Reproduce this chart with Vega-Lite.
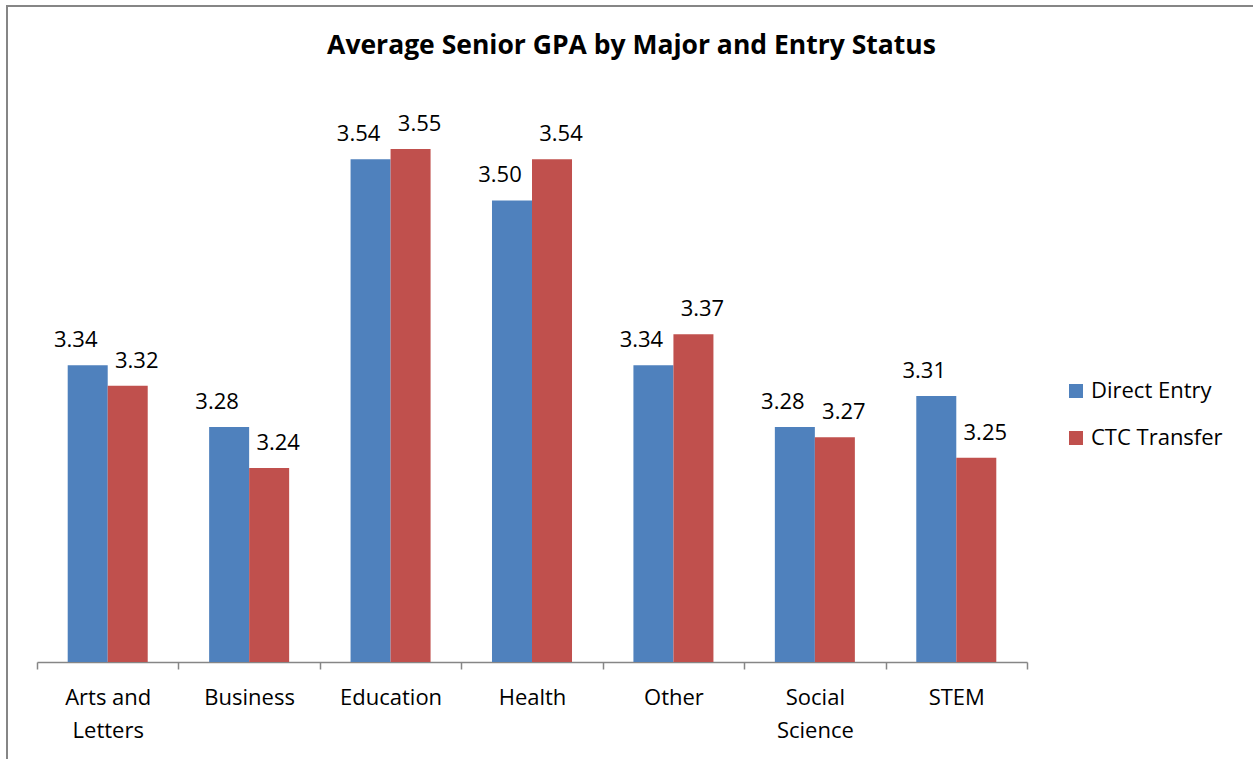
{
  "$schema": "https://vega.github.io/schema/vega-lite/v6.json",
  "width": 1249,
  "height": 756,
  "autosize": "none",
  "padding": {"left": 7, "top": 6, "right": -3, "bottom": -3},
  "background": "white",
  "config": {
    "view": {"stroke": "#868686", "strokeWidth": 2},
    "font": "Open Sans"
  },
  "title": {
    "text": "Average Senior GPA by Major and Entry Status",
    "font": "Open Sans",
    "fontSize": 26.5,
    "fontWeight": "bold",
    "color": "black",
    "anchor": "middle",
    "frame": "group",
    "baseline": "alphabetic",
    "offset": 0,
    "dy": 74
  },
  "data": {
    "values": [
      {"major": "Arts and Letters", "status": "Direct Entry", "gpa": 3.34},
      {"major": "Arts and Letters", "status": "CTC Transfer", "gpa": 3.32},
      {"major": "Business", "status": "Direct Entry", "gpa": 3.28},
      {"major": "Business", "status": "CTC Transfer", "gpa": 3.24},
      {"major": "Education", "status": "Direct Entry", "gpa": 3.54},
      {"major": "Education", "status": "CTC Transfer", "gpa": 3.55},
      {"major": "Health", "status": "Direct Entry", "gpa": 3.50},
      {"major": "Health", "status": "CTC Transfer", "gpa": 3.54},
      {"major": "Other", "status": "Direct Entry", "gpa": 3.34},
      {"major": "Other", "status": "CTC Transfer", "gpa": 3.37},
      {"major": "Social Science", "status": "Direct Entry", "gpa": 3.28},
      {"major": "Social Science", "status": "CTC Transfer", "gpa": 3.27},
      {"major": "STEM", "status": "Direct Entry", "gpa": 3.31},
      {"major": "STEM", "status": "CTC Transfer", "gpa": 3.25}
    ]
  },
  "encoding": {
    "x": {
      "field": "major",
      "type": "nominal",
      "sort": null,
      "scale": {"type": "band", "paddingInner": 0, "paddingOuter": 0, "range": [30, 1020]},
      "axis": {
        "title": null,
        "labelAngle": 0,
        "offset": -100,
        "tickBand": "extent",
        "domainColor": "#868686",
        "domainWidth": 1.5,
        "tickColor": "#868686",
        "tickWidth": 1.5,
        "tickSize": 7,
        "labelFont": "Open Sans",
        "labelFontSize": 22,
        "labelColor": "black",
        "labelPadding": 18,
        "labelLineHeight": 33,
        "labelExpr": "datum.value == 'Arts and Letters' ? ['Arts and', 'Letters'] : datum.value == 'Social Science' ? ['Social', 'Science'] : datum.value"
      }
    },
    "xOffset": {
      "field": "status",
      "type": "nominal",
      "sort": ["Direct Entry", "CTC Transfer"],
      "scale": {"paddingInner": 0, "paddingOuter": 0.7675}
    },
    "y": {
      "field": "gpa",
      "type": "quantitative",
      "scale": {"domain": [3.0515, 3.6], "range": [656, 91.6], "nice": false, "zero": false},
      "axis": null
    }
  },
  "layer": [
    {
      "mark": {"type": "bar"},
      "encoding": {
        "y2": {"datum": 3.0515},
        "color": {
          "field": "status",
          "type": "nominal",
          "sort": ["Direct Entry", "CTC Transfer"],
          "scale": {"domain": ["Direct Entry", "CTC Transfer"], "range": ["#4F81BD", "#C0504D"]},
          "legend": {
            "title": null,
            "orient": "none",
            "legendX": 1058,
            "legendY": 374,
            "padding": 0,
            "symbolType": "square",
            "symbolSize": 196,
            "symbolStrokeWidth": 0,
            "labelFont": "Open Sans",
            "labelFontSize": 22,
            "labelColor": "black",
            "labelOffset": 4,
            "rowPadding": 25
          }
        }
      }
    },
    {
      "transform": [{"filter": "datum.status == 'Direct Entry'"}],
      "mark": {"type": "text", "baseline": "alphabetic", "dy": -18, "dx": -12, "fontSize": 22, "font": "Open Sans", "color": "black"},
      "encoding": {"text": {"field": "gpa", "type": "quantitative", "format": ".2f"}}
    },
    {
      "transform": [{"filter": "datum.status == 'CTC Transfer'"}],
      "mark": {"type": "text", "baseline": "alphabetic", "dy": -18, "dx": 9, "fontSize": 22, "font": "Open Sans", "color": "black"},
      "encoding": {"text": {"field": "gpa", "type": "quantitative", "format": ".2f"}}
    }
  ]
}
